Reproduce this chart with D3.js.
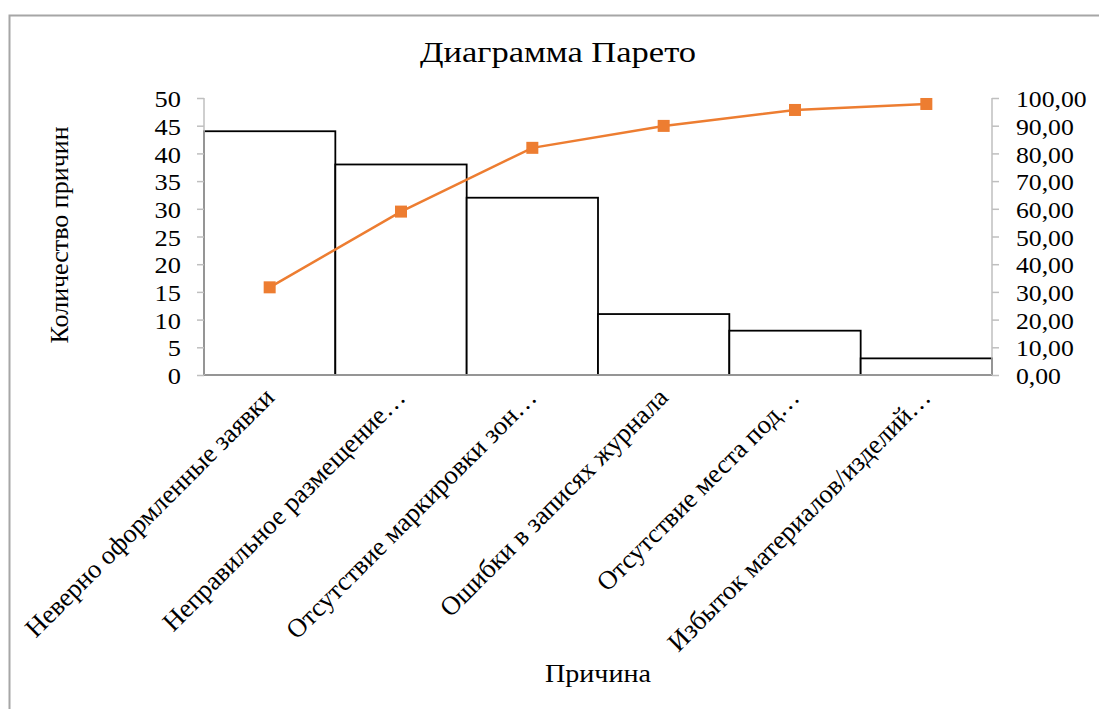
<!DOCTYPE html>
<html>
<head>
<meta charset="utf-8">
<script src="https://cdn.jsdelivr.net/npm/d3@7"></script>
<style>
  body { margin: 0; background: #fff; }
  text { font-family: "Liberation Serif", "Times New Roman", serif; fill: #000; }
</style>
</head>
<body>
<div id="chart"></div>
<script>
// data
var categories = [
  "Неверно оформленные заявки",
  "Неправильное размещение…",
  "Отсутствие маркировки зон…",
  "Ошибки в записях журнала",
  "Отсутствие места под…",
  "Избыток материалов/изделий…"
];
var counts = [44, 38, 32, 11, 8, 3];
var cumulative = [31.65, 58.99, 82.01, 89.93, 95.68, 97.84];
var leftTicks = [0, 5, 10, 15, 20, 25, 30, 35, 40, 45, 50];
var rightTicks = [0, 10, 20, 30, 40, 50, 60, 70, 80, 90, 100];

// widen text a bit, the source was rendered with a wider serif
function stretch(sel, k)
{
    sel.each(function() {
        var len = this.getComputedTextLength();
        d3.select(this)
          .attr("textLength", len * k)
          .attr("lengthAdjust", "spacingAndGlyphs");
    });
}

function init()
{
    var w = 1099;
    var h = 709;
    var left = 204, right = 992, top = 98, bottom = 375;

    var svg = d3.select("#chart")
                .append("svg")
                .attr("width", w)
                .attr("height", h);

    // outer chart frame
    svg.append("rect")
        .attr("x", 9.5).attr("y", 15.5)
        .attr("width", w + 20).attr("height", h + 20)
        .attr("fill", "none")
        .attr("stroke", "#a6a6a6")
        .attr("stroke-width", 2);

    var x = d3.scaleBand()
              .domain(categories)
              .range([left, right])
              .padding(0);

    var y = d3.scaleLinear().domain([0, 50]).range([bottom, top]);
    var y2 = d3.scaleLinear().domain([0, 100]).range([bottom, top]);

    // bars
    svg.selectAll("rect.bar")
        .data(counts)
        .enter()
        .append("rect")
        .attr("class", "bar")
        .attr("x", function(d, i) { return x(categories[i]); })
        .attr("y", function(d) { return y(d); })
        .attr("width", x.bandwidth())
        .attr("height", function(d) { return bottom - y(d); })
        .attr("fill", "#fff")
        .attr("stroke", "#000")
        .attr("stroke-width", 1.8);

    // left axis
    var gl = svg.append("g")
        .attr("transform", "translate(" + left + ",0)")
        .call(d3.axisLeft(y).tickValues(leftTicks).tickSize(7).tickPadding(16));
    // right axis
    var gr = svg.append("g")
        .attr("transform", "translate(" + right + ",0)")
        .call(d3.axisRight(y2).tickValues(rightTicks).tickSize(7).tickPadding(17)
              .tickFormat(function(d) { return d3.format(".2f")(d).replace(".", ","); }));
    // category axis
    var gb = svg.append("g")
        .attr("transform", "translate(0," + bottom + ")")
        .call(d3.axisBottom(x).tickSize(0).tickPadding(0));

    [gl, gr, gb].forEach(function(g) {
        g.select(".domain").attr("stroke", "#bfbfbf").attr("stroke-width", 1.5);
        g.selectAll(".tick line").attr("stroke", "#bfbfbf").attr("stroke-width", 1.5);
        g.selectAll("text").style("font-size", "24px").attr("font-family", null);
    });
    gl.select(".domain").attr("d", "M0," + bottom + "V" + top);
    gr.select(".domain").attr("d", "M0," + bottom + "V" + top);
    gb.select(".domain").attr("d", "M" + left + ",0H" + right);
    gl.selectAll(".tick text").attr("dy", "0.36em");
    gr.selectAll(".tick text").attr("dy", "0.36em");
    stretch(gl.selectAll(".tick text"), 1.1);
    stretch(gr.selectAll(".tick text"), 1.07);

    gb.selectAll(".tick text")
        .attr("text-anchor", "end")
        .attr("dy", "0")
        .attr("y", 0)
        .attr("transform", "translate(6,24) rotate(-45)")
        .style("font-size", "26.5px");

    // cumulative line
    var line = d3.line()
        .x(function(d, i) { return x(categories[i]) + x.bandwidth() / 2; })
        .y(function(d) { return y2(d); });

    svg.append("path")
        .datum(cumulative)
        .attr("d", line)
        .attr("fill", "none")
        .attr("stroke", "#ed7d31")
        .attr("stroke-width", 2.5);

    svg.selectAll("rect.pt")
        .data(cumulative)
        .enter()
        .append("rect")
        .attr("class", "pt")
        .attr("x", function(d, i) { return x(categories[i]) + x.bandwidth() / 2 - 6; })
        .attr("y", function(d) { return y2(d) - 6; })
        .attr("width", 12)
        .attr("height", 12)
        .attr("fill", "#ed7d31");

    // titles
    var title = svg.append("text")
        .attr("x", 558).attr("y", 62)
        .attr("text-anchor", "middle")
        .style("font-size", "30px")
        .text("Диаграмма Парето");
    stretch(title, 1.15);

    var xt = svg.append("text")
        .attr("x", 598).attr("y", 682)
        .attr("text-anchor", "middle")
        .style("font-size", "26px")
        .text("Причина");
    stretch(xt, 1.08);

    svg.append("text")
        .attr("transform", "translate(68,235) rotate(-90)")
        .attr("text-anchor", "middle")
        .style("font-size", "26px")
        .text("Количество причин");
}
window.onload = init;
</script>
</body>
</html>
